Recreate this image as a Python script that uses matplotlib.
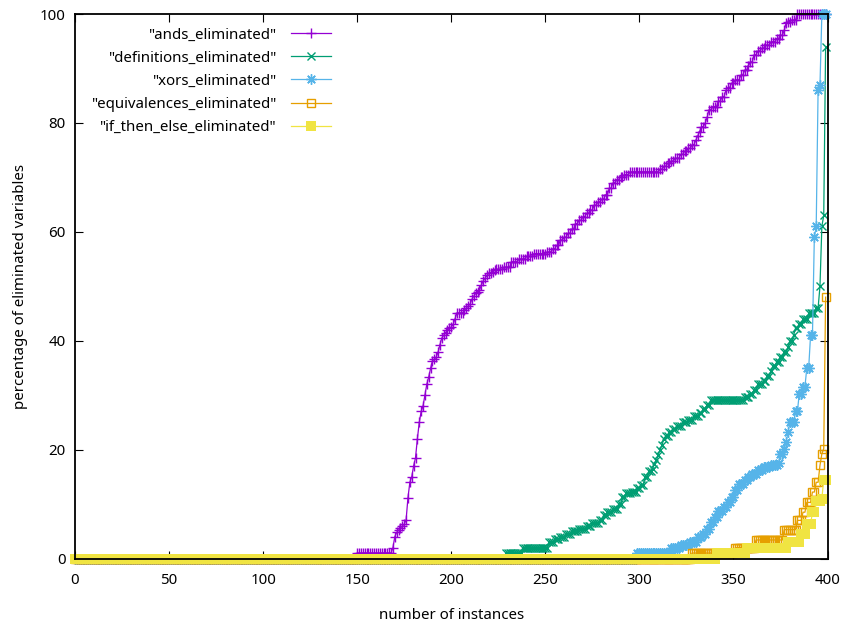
import numpy as np
import matplotlib
matplotlib.use("Agg")
import matplotlib.pyplot as plt

plt.rcParams['font.family'] = ['Noto Sans', 'DejaVu Sans']

# ---- data: sorted values per series as (level, count) runs, x = instance index ----
ands_levels = [0, 1, 2, 4, 4.8, 5.2, 5.6, 6, 6.3, 7.1,
               11.2, 14, 15, 17, 18.5, 22, 25, 27, 28, 30,
               32, 33.3, 34.9, 36.3, 36.6, 37, 37.9, 39.3, 40.5, 41,
               41.5, 41.9, 42.3, 42.5, 43, 44, 45.1,
               45.6, 46, 46.4, 46.7, 47.6, 48.2, 48.7, 49, 49.3, 50.2, 51, 51.5, 52,
               52.4, 52.5, 52.7, 52.9, 53.1, 53.5, 54.5, 55, 55.5, 56, 56.3,
               56.9, 57.5, 58.5, 59, 59.7, 60.5, 61.5, 62.1, 62.8, 63.4, 64, 64.9,
               65.5, 66, 66.8, 68, 69, 69.6, 70.1, 70.5, 71,
               71.5, 72, 72.6, 73, 73.5, 74.2, 74.8, 75.3, 76, 76.8, 77.6, 78.4,
               79.3, 80, 81, 82.4, 83, 84, 84.8, 86, 86.5, 87.3, 87.9, 88.8, 89.7,
               90.5, 91.2, 92.5, 93.2, 93.7, 94.3, 94.9, 95.5, 96.1, 97, 98.3,
               98.6, 98.9, 100]
ands_counts = [150, 19, 1, 1, 1, 1, 1, 1, 1, 1,
               1, 1, 1, 1, 1, 1, 1, 1, 1, 1,
               1, 1, 1, 1, 1, 1, 1, 1, 1, 1,
               1, 1, 1, 1, 1, 1, 4,
               1, 1, 1, 1, 1, 1, 1, 1, 1, 1, 1, 1, 1,
               1, 1, 1, 1, 4, 4, 4, 4, 4, 7, 3,
               2, 2, 2, 2, 2, 2, 2, 2, 2, 2, 2, 2,
               2, 2, 2, 2, 2, 2, 2, 3, 16,
               2, 2, 2, 2, 3, 2, 2, 2, 2, 1, 1, 1,
               2, 1, 1, 2, 3, 2, 2, 1, 2, 2, 3, 2, 2,
               1, 2, 2, 2, 2, 3, 3, 2, 2, 1, 1,
               2, 3, 16]

defs_levels = [0, 1, 2, 3, 3.5, 4, 4.5, 5, 5.5, 6, 6.5, 7, 8, 8.5, 9.1, 10, 11.3,
               12, 12.2, 13, 13.5, 14.9, 16, 16.5, 17.3, 18, 19, 20, 20.8, 22, 22.5,
               23.2, 23.7, 24.4, 25, 25.4, 26.2, 26.8, 27.5, 28.2, 29.2, 29.7, 30.3,
               31, 32, 32.6, 33.6, 34.5, 35.3, 36.1, 37, 37.9, 38.8, 40, 41, 42.3,
               43, 44, 45, 46, 50, 61, 63, 94]
defs_counts = [229, 9, 14, 3, 3, 3, 3, 4, 4, 3, 4, 2, 2, 3, 3, 2, 2,
               3, 3, 2, 2, 2, 2, 1, 1, 1, 1, 1, 1, 1, 2,
               2, 2, 3, 3, 3, 3, 2, 2, 2, 18, 3, 2,
               2, 3, 2, 2, 1, 2, 2, 2, 2, 1, 2, 1, 2,
               2, 3, 4, 2, 1, 1, 1, 1]

xors_levels = [0, 1, 2, 2.5, 3, 3.9, 4.5, 5.5, 6.7, 7.6, 8.8, 9.5, 10.3, 11.3, 12.5,
               13.7, 14.5, 15, 15.6, 16.2, 16.8, 17.2, 17.6, 19.2, 20.2, 21.4, 23.2,
               25, 27, 30.3, 31.5, 35, 41, 59, 61, 86, 87, 100]
xors_counts = [299, 18, 5, 5, 4, 3, 2, 2, 2, 2, 3, 2, 2, 2, 2,
               3, 2, 2, 3, 3, 4, 4, 1, 2, 1, 1, 1,
               3, 2, 2, 2, 2, 2, 1, 1, 1, 1, 3]

equiv_levels = [0, 1, 2, 3.4, 5.3, 7, 8.5, 10.3, 12.2, 14, 17.1, 19.2, 20.2, 48]
equiv_counts = [328, 23, 11, 15, 7, 3, 2, 3, 2, 2, 1, 1, 1, 1]

ite_levels = [0, 1, 2, 3, 4.5, 6.3, 8.5, 10.5, 11, 14.5]
ite_counts = [341, 16, 22, 7, 3, 3, 2, 3, 1, 2]

labels = ['"ands_eliminated"', '"definitions_eliminated"', '"xors_eliminated"',
          '"equivalences_eliminated"', '"if_then_else_eliminated"']
colors = ['#9400D3', '#009E73', '#56B4E9', '#E69F00', '#F0E442']

x_ticks = [0, 50, 100, 150, 200, 250, 300, 350, 400]
y_ticks = [0, 20, 40, 60, 80, 100]

FS = 10.8

# ---- figure ----
fig = plt.figure(figsize=(8.42, 6.26), dpi=100)
ax = fig.add_axes([75 / 842, 1 - 558.5 / 626, 752.5 / 842, (558.5 - 14) / 626])

series = [(ands_levels, ands_counts), (defs_levels, defs_counts),
          (xors_levels, xors_counts), (equiv_levels, equiv_counts),
          (ite_levels, ite_counts)]
styles = [dict(marker='+', ms=7, mew=1.0),
          dict(marker='x', ms=6.3, mew=1.0),
          dict(marker=(8, 2, 0), ms=7.5, mew=1.0),
          dict(marker='s', ms=6.0, mew=1.0, mfc='none'),
          dict(marker='s', ms=7.0, mew=0.0)]

for (lv, ct), lab, col, st in zip(series, labels, colors, styles):
    y = np.repeat(np.array(lv, dtype=float), np.array(ct))
    x = np.arange(len(y))
    kw = dict(st)
    kw.setdefault('mfc', col)
    ax.plot(x, y, color=col, lw=0.9, label=lab, clip_on=False, mec=col, **kw)

ax.set_xlim(0, 400)
ax.set_ylim(0, 100)
ax.set_xticks(x_ticks)
ax.set_yticks(y_ticks)
ax.tick_params(direction='in', length=5.5, width=0.8, top=True, right=True,
               labelsize=FS, colors='black')
ax.tick_params(axis='x', pad=10.5)
ax.tick_params(axis='y', pad=6.5)
for sp in ax.spines.values():
    sp.set_linewidth(1.3)
    sp.set_zorder(5)

ax.set_xlabel('number of instances', fontsize=FS, labelpad=14.5)
ax.set_ylabel('percentage of eliminated variables', fontsize=FS, labelpad=9)

leg = ax.legend(loc='upper right', bbox_to_anchor=(331 / 842, 1 - 27.5 / 626),
                bbox_transform=fig.transFigure, frameon=False, markerfirst=False,
                fontsize=FS, handlelength=2.67, handletextpad=1.0, labelspacing=0.54,
                borderpad=0, borderaxespad=0, numpoints=1)

fig.savefig('out.png', dpi=100)
